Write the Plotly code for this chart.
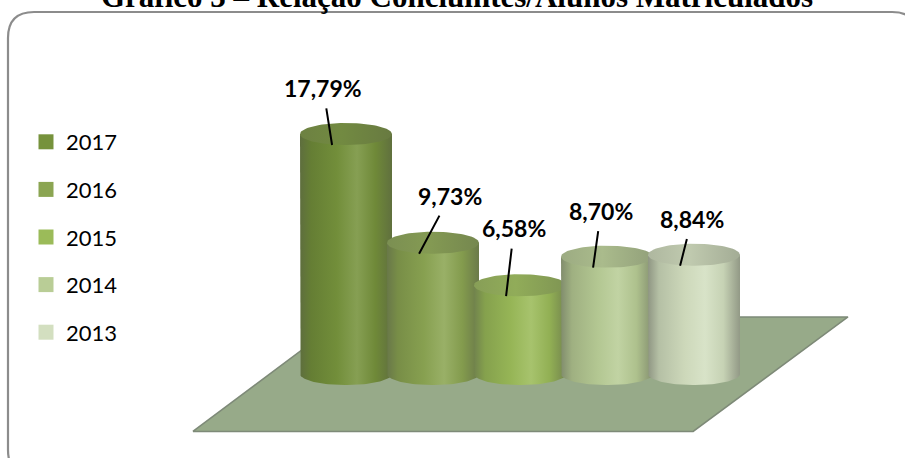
import numpy as np
import plotly.graph_objects as go

# ---- data -------------------------------------------------------------
years = ["2017", "2016", "2015", "2014", "2013"]
rates = [17.79, 9.73, 6.58, 8.70, 8.84]          # concluintes / matriculados (%)
colors = ["#76923C", "#8BA552", "#9BBB59", "#B9CD96", "#D3DFC0"]

title_text = "Gráfico 3 – Relação Concluintes/Alunos Matriculados"

# ---- geometry of the pseudo-3D scene (axis units) ---------------------
W, H = 905, 458
PX_X = 87.0        # pixels per category step
PX_Y = 13.49       # pixels per percentage point
X0_PX, Y0_PX = 346.0, 374.0   # pixel position of (0, 0)
x_range = [-X0_PX / PX_X, (W - X0_PX) / PX_X]
y_range = [(Y0_PX - H) / PX_Y, Y0_PX / PX_Y]

R = 46.0 / PX_X    # cylinder radius (x units)
B = 11.0 / PX_Y    # ellipse half-height (y units)

# pixel offsets of each value label from the point it annotates
label_offsets = [(-9, -57), (31, -58), (8, -68), (8, -57), (12, -47)]


def to_rgb(col):
    if isinstance(col, str):
        h = col.lstrip("#")
        return np.array([int(h[i:i + 2], 16) for i in (0, 2, 4)], dtype=float)
    return np.asarray(col, dtype=float)


def mix(col, target, t):
    c = to_rgb(col)
    return c + (np.array(target, dtype=float) - c) * t


def css(col):
    c = np.clip(np.round(to_rgb(col)), 0, 255).astype(int)
    return "rgb(%d,%d,%d)" % tuple(c)


def darker(c, t):
    return mix(c, (0, 0, 0), t)


def lighter(c, t):
    return mix(c, (255, 255, 255), t)


def grey(c, t):
    return mix(c, (128, 132, 120), t)


fig = go.Figure()

# floor of the 3D plot area
fx = [-1.76, 3.99, 5.77, 0.0, -1.76]
fy = [-4.26, -4.26, 4.23, 4.23, -4.26]
fig.add_trace(go.Scatter(
    x=fx, y=fy, mode="lines", fill="toself", fillcolor="#97AA89",
    line=dict(color="#7E8A78", width=1.5), hoverinfo="skip", showlegend=False))

# cylinders, drawn left to right so each one overlaps the previous
for i, (yr, v, c) in enumerate(zip(years, rates, colors)):
    t = np.linspace(np.pi, 2 * np.pi, 60)
    bx = np.concatenate([[i - R, i - R], i + R * np.cos(t), [i + R, i - R]])
    by = np.concatenate([[v, 0], B * np.sin(t), [v, v]])
    body_scale = [
        [0.0, css(grey(darker(c, 0.30), 0.25))],
        [0.12, css(darker(c, 0.14))],
        [0.40, css(darker(c, 0.03))],
        [0.62, css(lighter(c, 0.12))],
        [0.82, css(darker(c, 0.06))],
        [1.0, css(grey(darker(c, 0.28), 0.25))],
    ]
    fig.add_trace(go.Scatter(
        x=bx, y=by, mode="lines", fill="toself",
        fillgradient=dict(type="horizontal", colorscale=body_scale),
        line=dict(width=0), hoverinfo="skip", showlegend=False))

    tt = np.linspace(0, 2 * np.pi, 90)
    tx = i + R * np.cos(tt)
    ty = v + B * np.sin(tt)
    top_scale = [
        [0.0, css(grey(darker(c, 0.12), 0.20))],
        [0.45, css(grey(darker(c, 0.05), 0.12))],
        [1.0, css(grey(darker(c, 0.18), 0.22))],
    ]
    fig.add_trace(go.Scatter(
        x=tx, y=ty, mode="lines", fill="toself",
        fillgradient=dict(type="horizontal", colorscale=top_scale),
        line=dict(width=0), hoverinfo="skip", showlegend=False))

# legend entries
for yr, c in zip(years, colors):
    fig.add_trace(go.Scatter(
        x=[None], y=[None], mode="markers", name=yr, legendgroup=yr,
        marker=dict(symbol="square", size=15, color=c)))

# value labels with leader lines
annotations = []
for i, (v, (ax, ay)) in enumerate(zip(rates, label_offsets)):
    annotations.append(dict(
        x=i - 0.16, y=v - B, xref="x", yref="y",
        text="<b>" + ("%.2f" % v).replace(".", ",") + "%</b>",
        showarrow=True, arrowhead=0, arrowwidth=2, arrowcolor="#000000",
        ax=ax, ay=ay, startstandoff=5,
        font=dict(family="Lato", size=23, color="#000000")))

annotations.append(dict(
    x=457 / W, y=1 + 3 / H, xref="paper", yref="paper", xanchor="center", yanchor="middle",
    text="<b>%s</b>" % title_text, showarrow=False,
    font=dict(family="Liberation Serif", size=31, color="#000000")))

# rounded chart-area frame
x0, y0, x1, y1, r = 8.0, 12.0, 918.0, 476.0, 26.0


def p(xp, yp):
    return "%.5f,%.5f" % (xp / W, 1 - yp / H)


frame = ("M" + p(x0 + r, y0) + " L" + p(x1 - r, y0) + " Q" + p(x1, y0) + " " + p(x1, y0 + r)
         + " L" + p(x1, y1 - r) + " Q" + p(x1, y1) + " " + p(x1 - r, y1)
         + " L" + p(x0 + r, y1) + " Q" + p(x0, y1) + " " + p(x0, y1 - r)
         + " L" + p(x0, y0 + r) + " Q" + p(x0, y0) + " " + p(x0 + r, y0) + " Z")

fig.update_layout(
    width=W, height=H, autosize=False,
    margin=dict(l=0, r=0, t=0, b=0),
    paper_bgcolor="white", plot_bgcolor="white",
    xaxis=dict(range=x_range, visible=False, fixedrange=True),
    yaxis=dict(range=y_range, visible=False, fixedrange=True),
    legend=dict(x=26 / W, y=1 - 121 / H, xanchor="left", yanchor="top",
                font=dict(family="Lato", size=22, color="#000000"),
                tracegroupgap=16, bgcolor="rgba(0,0,0,0)", itemclick=False),
    annotations=annotations,
    shapes=[dict(type="path", path=frame, xref="paper", yref="paper",
                 line=dict(color="#8C8C8C", width=2.2), layer="above")],
)

fig.write_html("out.html", config={"displayModeBar": False})
